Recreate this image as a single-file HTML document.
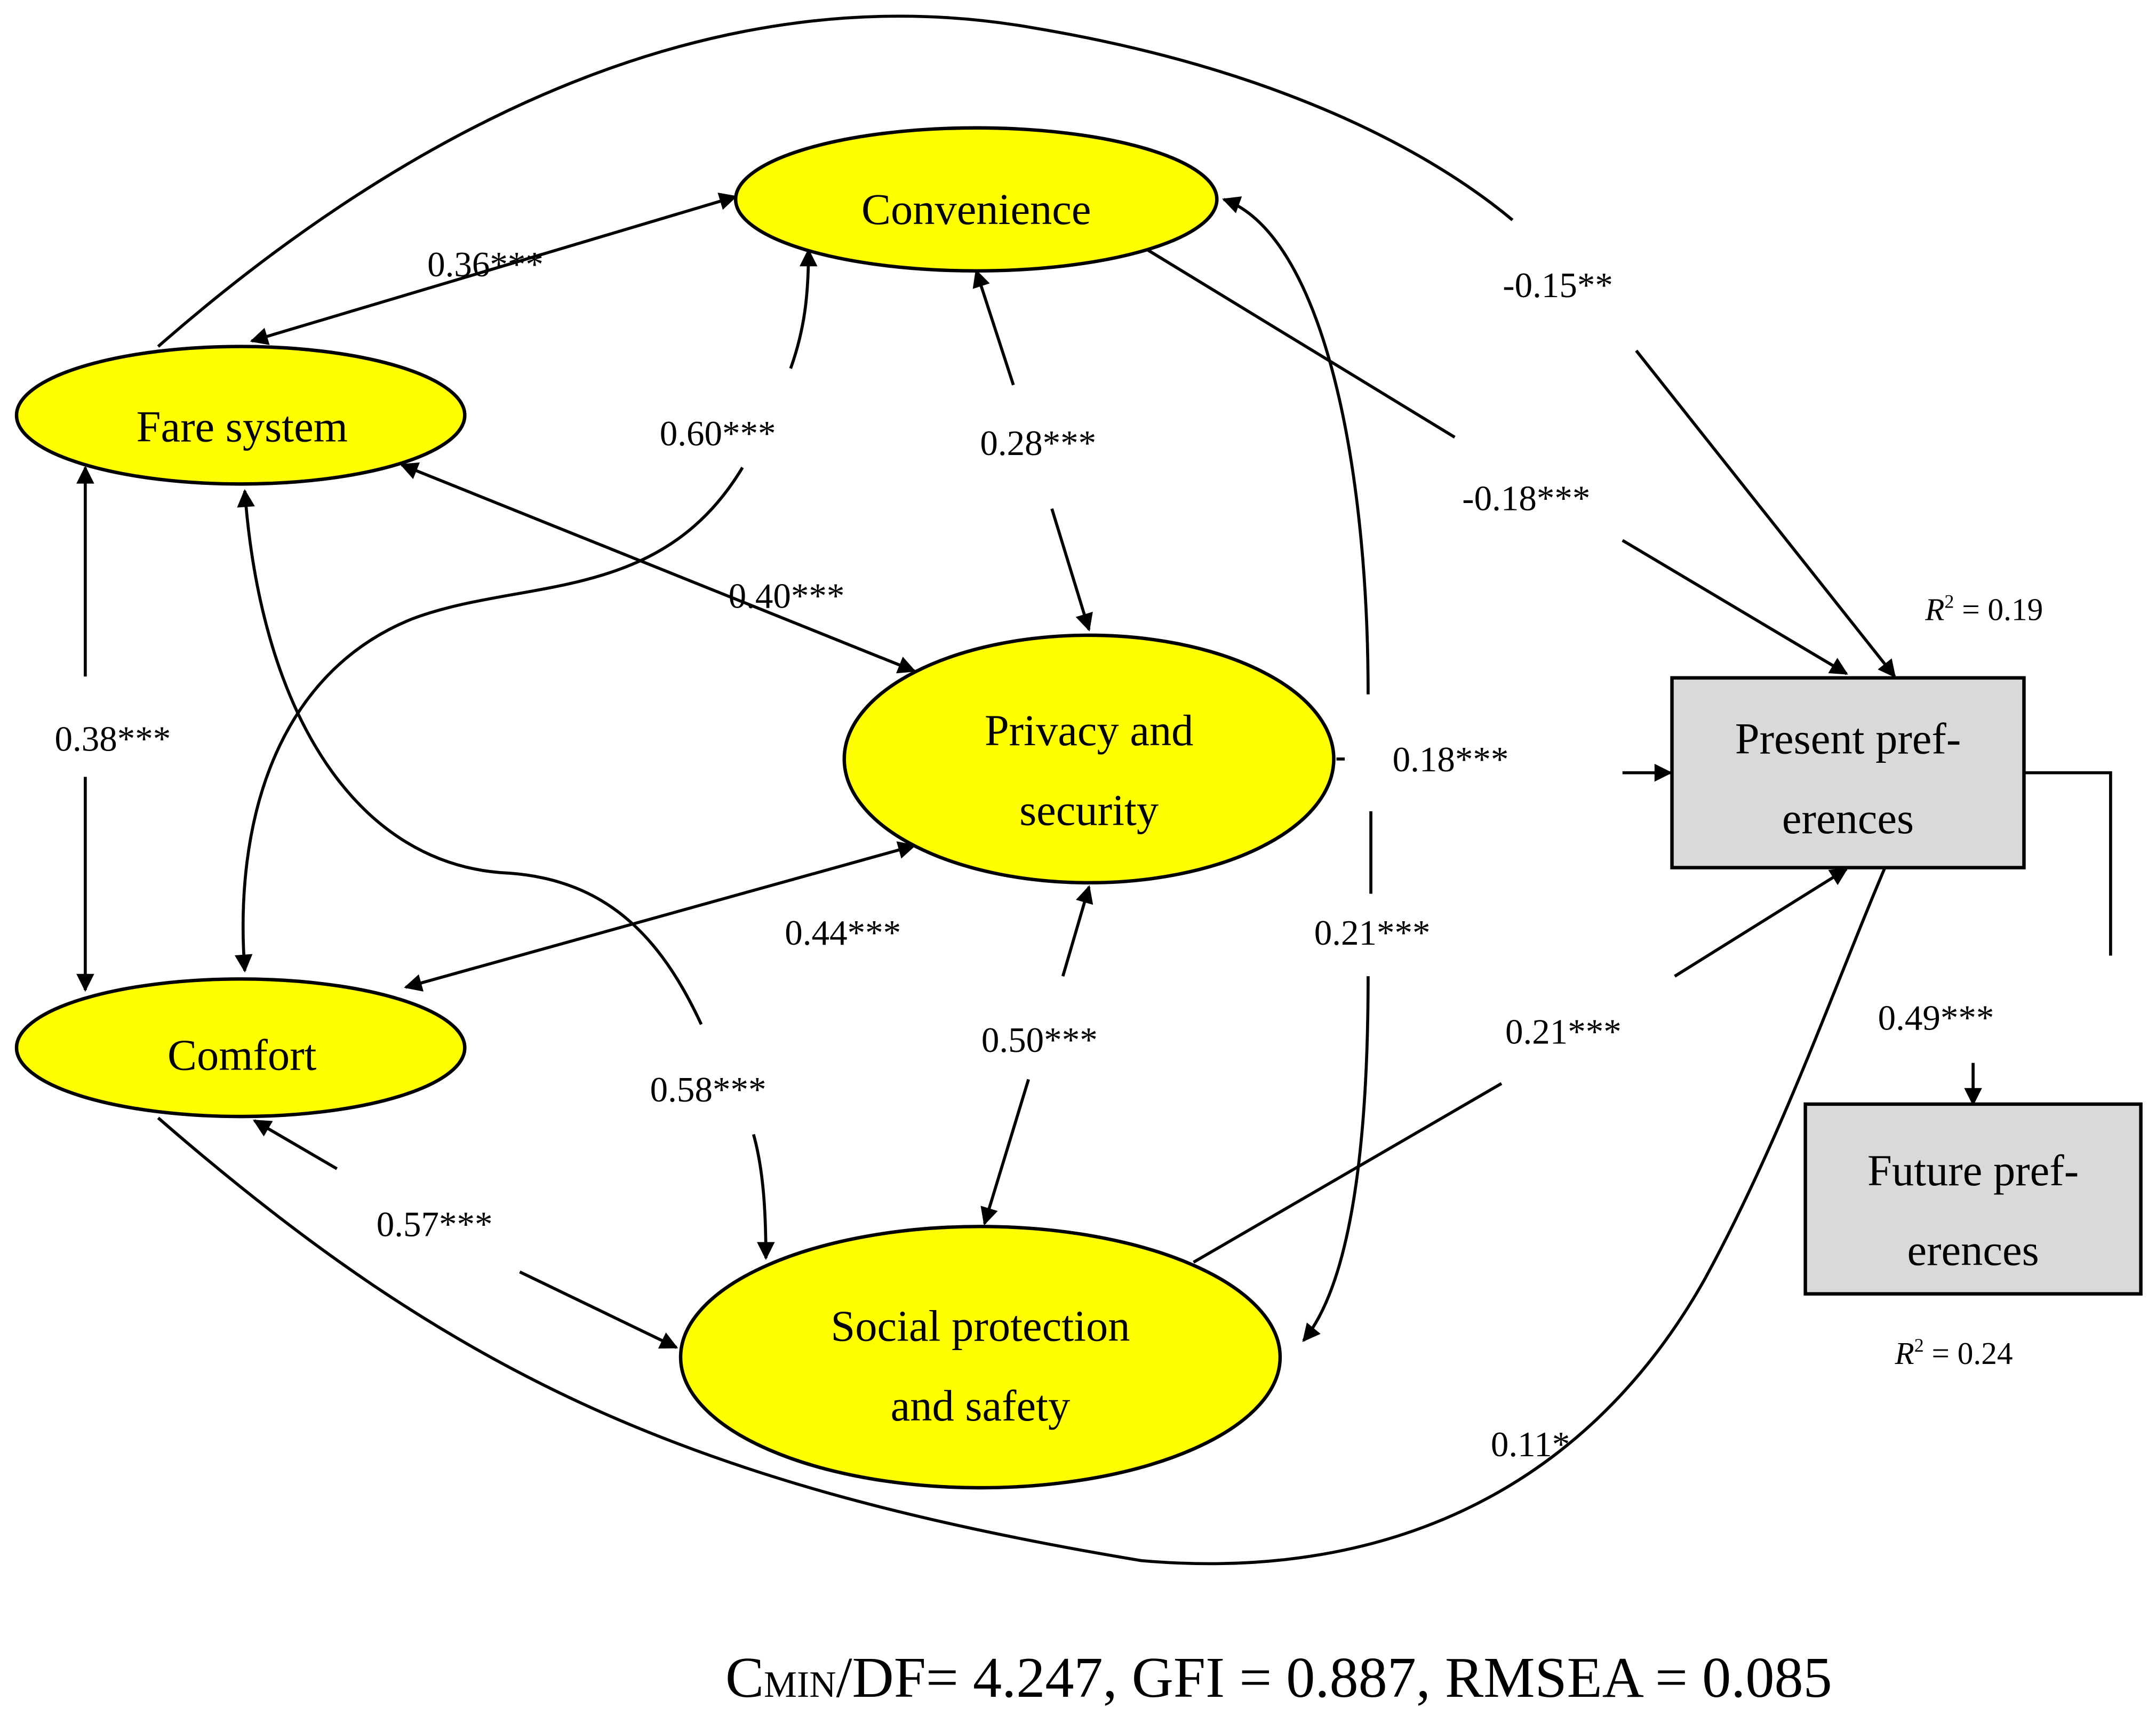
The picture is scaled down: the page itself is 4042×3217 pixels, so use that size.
<!DOCTYPE html>
<html><head><meta charset="utf-8"><style>
html,body{margin:0;padding:0;background:#fff;}
svg{display:block;}
text{font-family:"Liberation Serif",serif;fill:#000;}
</style></head><body>
<svg width="4042" height="3217" viewBox="0 0 1568 1248" xmlns="http://www.w3.org/2000/svg">
<defs>
<marker id="a" viewBox="0 0 10 10" refX="9" refY="5" markerWidth="15" markerHeight="13" orient="auto-start-reverse" markerUnits="userSpaceOnUse">
<path d="M0,0 L10,5 L0,10 z" fill="#000"/></marker>
</defs>
<rect width="1568" height="1248" fill="#fff"/>
<g stroke="#000" stroke-width="2.2" fill="none">
<line x1="183" y1="248" x2="535" y2="143" marker-start="url(#a)" marker-end="url(#a)"/>
<path d="M115,252 C300,90 520,-20 750,20 C930,50 1040,110 1100,160"/>
<line x1="1190" y1="255" x2="1378" y2="492" marker-end="url(#a)"/>
<line x1="835" y1="182" x2="1058" y2="318"/>
<line x1="1180" y1="393" x2="1343" y2="490" marker-end="url(#a)"/>
<line x1="737" y1="280" x2="710" y2="197" marker-end="url(#a)"/>
<line x1="765" y1="370" x2="792" y2="458" marker-end="url(#a)"/>
<path d="M575,268 C585,240 588,215 588,182" marker-end="url(#a)"/>
<path d="M540,340 C480,440 380,420 300,450 C200,490 170,600 178,706" marker-end="url(#a)"/>
<line x1="292" y1="338" x2="665" y2="488" marker-start="url(#a)" marker-end="url(#a)"/>
<line x1="62" y1="492" x2="62" y2="340" marker-end="url(#a)"/>
<line x1="62" y1="565" x2="62" y2="720" marker-end="url(#a)"/>
<path d="M510,745 C480,680 440,640 370,635 C260,630 190,520 178,357" marker-end="url(#a)"/>
<path d="M548,825 C555,850 557,880 557,915" marker-end="url(#a)"/>
<line x1="295" y1="718" x2="665" y2="615" marker-start="url(#a)" marker-end="url(#a)"/>
<line x1="773" y1="710" x2="792" y2="645" marker-end="url(#a)"/>
<line x1="748" y1="785" x2="716" y2="890" marker-end="url(#a)"/>
<line x1="245" y1="850" x2="185" y2="815" marker-end="url(#a)"/>
<line x1="378" y1="925" x2="492" y2="980" marker-end="url(#a)"/>
<path d="M995,505 C995,330 960,170 890,145" marker-end="url(#a)"/>
<line x1="997" y1="590" x2="997" y2="650"/>
<path d="M995,710 C995,820 985,930 948,975" marker-end="url(#a)"/>
<line x1="972" y1="552" x2="978" y2="552"/>
<line x1="1180" y1="562" x2="1215" y2="562" marker-end="url(#a)"/>
<line x1="868" y1="918" x2="1092" y2="788"/>
<line x1="1218" y1="710" x2="1343" y2="632" marker-end="url(#a)"/>
<path d="M115,813 C330,1000 500,1080 830,1135 C1000,1150 1150,1090 1240,930 C1300,820 1340,700 1380,610" marker-end="url(#a)"/>
<polyline points="1472,562 1535,562 1535,695"/>
<line x1="1435" y1="773" x2="1435" y2="803" marker-end="url(#a)"/>
</g>
<g stroke="#000" stroke-width="2.5" fill="#ffff00">
<ellipse cx="710" cy="145" rx="175" ry="52"/>
<ellipse cx="175" cy="302" rx="163" ry="50"/>
<ellipse cx="792" cy="552" rx="178" ry="90"/>
<ellipse cx="175" cy="762" rx="163" ry="50"/>
<ellipse cx="713" cy="987" rx="218" ry="95"/>
</g>
<g stroke="#000" stroke-width="2.5" fill="#d9d9d9">
<rect x="1216" y="493" width="256" height="138"/>
<rect x="1313" y="803" width="244" height="138"/>
</g>
<g font-size="32" text-anchor="middle">
<text x="710" y="163">Convenience</text>
<text x="176" y="321">Fare system</text>
<text x="792" y="542">Privacy and</text>
<text x="792" y="600">security</text>
<text x="176" y="778">Comfort</text>
<text x="713" y="975">Social protection</text>
<text x="713" y="1033">and safety</text>
<text x="1344" y="548">Present pref-</text>
<text x="1344" y="606">erences</text>
<text x="1435" y="862">Future pref-</text>
<text x="1435" y="920">erences</text>
</g>
<g font-size="26" text-anchor="middle">
<text x="353" y="201">0.36***</text>
<text x="1133" y="216">-0.15**</text>
<text x="1110" y="371">-0.18***</text>
<text x="755" y="331">0.28***</text>
<text x="522" y="324">0.60***</text>
<text x="572" y="442">0.40***</text>
<text x="82" y="546">0.38***</text>
<text x="515" y="801">0.58***</text>
<text x="613" y="687">0.44***</text>
<text x="756" y="765">0.50***</text>
<text x="316" y="899">0.57***</text>
<text x="998" y="687">0.21***</text>
<text x="1055" y="561">0.18***</text>
<text x="1137" y="759">0.21***</text>
<text x="1113" y="1059">0.11*</text>
<text x="1408" y="749">0.49***</text>
</g>
<g font-size="23" text-anchor="middle">
<text x="1443" y="451"><tspan font-style="italic">R</tspan><tspan font-size="14" dy="-9">2</tspan><tspan dy="9"> = 0.19</tspan></text>
<text x="1421" y="992"><tspan font-style="italic">R</tspan><tspan font-size="14" dy="-9">2</tspan><tspan dy="9"> = 0.24</tspan></text>
</g>
<text x="930" y="1234" font-size="42" text-anchor="middle">C<tspan font-size="27">MIN</tspan>/DF= 4.247, GFI = 0.887, RMSEA = 0.085</text>
</svg>
</body></html>
